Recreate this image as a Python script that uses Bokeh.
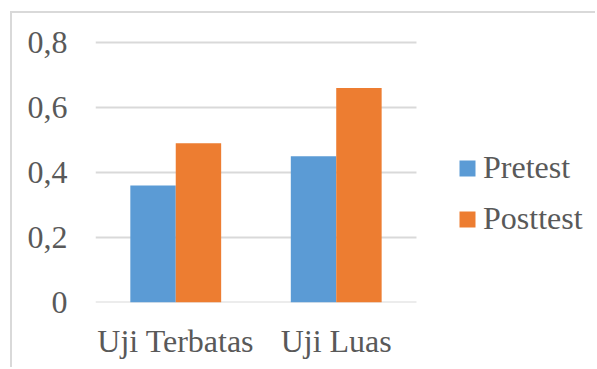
from bokeh.plotting import figure
from bokeh.models import (ColumnDataSource, Range1d, FixedTicker, Legend, LegendItem)
from bokeh.transform import dodge
from bokeh.embed import file_html
from bokeh.resources import INLINE

# Data
categories = ["Uji Terbatas", "Uji Luas"]
pretest = [0.36, 0.45]
posttest = [0.49, 0.66]
series_names = ["Pretest", "Posttest"]
y_ticks = [0, 0.2, 0.4, 0.6, 0.8]
y_tick_labels = ["0", "0,2", "0,4", "0,6", "0,8"]

FONT = "serif"
FONT_SIZE = "32px"
TEXT_COLOR = "#595959"
GRID_COLOR = "#d9d9d9"
BLUE = "#5b9bd5"
ORANGE = "#ed7d31"

xpos = list(range(len(categories)))
source = ColumnDataSource(dict(x=xpos, pre=pretest, post=posttest))

p = figure(
    width=585, height=356,
    x_range=Range1d(-0.5, 2.628),
    y_range=Range1d(0, 0.8092),
    output_backend="svg", toolbar_location=None,
    min_border_left=83, min_border_right=0,
    min_border_top=26, min_border_bottom=67,
)
# chart-area frame drawn as a light border on the top and left edges
p.margin = (11, 0, 0, 10)
p.styles = {"border-top": f"2px solid {GRID_COLOR}", "border-left": f"2px solid {GRID_COLOR}"}
p.outline_line_color = None
p.background_fill_color = "white"
p.border_fill_color = "white"

# horizontal gridlines spanning the category area only
p.segment(x0=-0.5, x1=len(categories) - 0.5, y0=y_ticks, y1=y_ticks,
          line_color=GRID_COLOR, line_width=2)

bar_w = 0.283
r_pre = p.vbar(x=dodge("x", -bar_w / 2), top="pre", width=bar_w,
               source=source, fill_color=BLUE, line_color=None)
r_post = p.vbar(x=dodge("x", bar_w / 2), top="post", width=bar_w,
                source=source, fill_color=ORANGE, line_color=None)

# Axes
p.xaxis.ticker = FixedTicker(ticks=xpos)
p.xaxis.major_label_overrides = {i: c for i, c in zip(xpos, categories)}
p.yaxis.ticker = FixedTicker(ticks=y_ticks)
p.yaxis.major_label_overrides = {t: s for t, s in zip(y_ticks, y_tick_labels)}
for ax in (p.xaxis, p.yaxis):
    ax.axis_line_color = None
    ax.major_tick_line_color = None
    ax.minor_tick_line_color = None
    ax.major_tick_out = 0
    ax.major_tick_in = 0
    ax.minor_tick_out = 0
    ax.major_label_text_font = FONT
    ax.major_label_text_font_size = FONT_SIZE
    ax.major_label_text_color = TEXT_COLOR
p.yaxis.major_label_standoff = 28
p.xaxis.major_label_standoff = 20
p.grid.grid_line_color = None

legend = Legend(
    items=[LegendItem(label=series_names[0], renderers=[r_pre]),
           LegendItem(label=series_names[1], renderers=[r_post])],
    location=(362, 65),
    label_text_font=FONT, label_text_font_size=FONT_SIZE,
    label_text_color=TEXT_COLOR,
    glyph_width=20, glyph_height=20, label_standoff=6,
    spacing=14, padding=0, margin=0,
    border_line_color=None, background_fill_alpha=0,
)
p.add_layout(legend, "center")

open("out.html", "w").write(file_html(p, INLINE))
